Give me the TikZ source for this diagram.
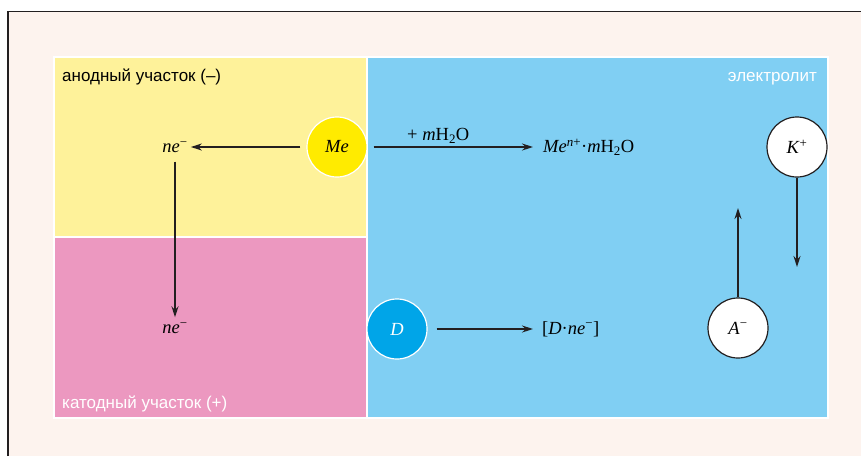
\documentclass[tikz,border=0pt]{standalone}
\usepackage{fontspec}
\setmainfont{Liberation Serif}
\setsansfont{Liberation Sans}
\usetikzlibrary{arrows.meta,positioning}
\definecolor{ink}{HTML}{231F20}
\definecolor{cream}{HTML}{FDF3EE}
\definecolor{anodeyellow}{HTML}{FEF29A}
\definecolor{cathodepink}{HTML}{EC98C0}
\definecolor{electroblue}{HTML}{80CFF3}
\definecolor{meyellow}{HTML}{FFEB00}
\definecolor{dblue}{HTML}{00A5E8}

\begin{document}
\begin{tikzpicture}[
  x=1pt, y=-1pt,
  font=\fontsize{18.5}{21}\selectfont,
  region/.style={draw=white, line width=1.5pt},
  zonelabel/.style={font=\sffamily\fontsize{17}{20}\selectfont, inner sep=0pt},
  ion/.style={circle, draw=ink, line width=1.2pt, fill=white, minimum size=60pt, inner sep=0pt},
  particle/.style={circle, draw=white, line width=1.2pt, minimum size=60pt, inner sep=0pt},
  chem/.style={inner sep=3pt},
  arrow/.style={-{Stealth[length=11pt,width=7pt]}, line width=1.3pt, draw=ink}
]
\useasboundingbox (0,0) rectangle (861,456);
\fill[white] (0,0) rectangle (861,456);
\fill[cream] (8,11.5) rectangle (861,456);
\draw[ink, line width=1.2pt] (8,456) -- (8,11.5) -- (861,11.5);

% zones
\filldraw[region, fill=anodeyellow] (54,57) rectangle (367,237);
\filldraw[region, fill=cathodepink] (54,237) rectangle (367,418);
\filldraw[region, fill=electroblue] (367,57) rectangle (828,418);
\node[zonelabel, anchor=base west] (anode) at (62,81) {анодный участок (–)};
\node[zonelabel, anchor=base west, text=white] (cathode) at (62,408) {катодный участок (+)};
\node[zonelabel, anchor=base east, text=white] (electrolyte) at (817,81) {электролит};

% particles
\node[particle, fill=meyellow] (me) at (337,147) {\textit{Me}};
\node[particle, fill=dblue, text=white] (d) at (397,329) {\textit{D}};
\node[ion] (k) at (797,147) {\textit{K}\textsuperscript{+}};
\node[ion] (a) at (738,328) {\textit{A}\textsuperscript{−}};

% products
\node[chem] (nea) at (175,147) {\textit{ne}\textsuperscript{−}};
\node[chem] (neb) at (175,328) {\textit{ne}\textsuperscript{−}};
\node[chem, anchor=west] (mehyd) at (540,147) {\textit{Me}\textsuperscript{\textit{n}+}·\textit{m}H\textsubscript{2}O};
\node[chem, anchor=west] (dne) at (539,329) {[\textit{D}·\textit{ne}\textsuperscript{−}]};
\coordinate (aup) at (738,208);
\coordinate (kdown) at (797,267);

\draw[arrow, shorten <=6pt] (me) -- (nea);
\draw[arrow, shorten <=6pt, shorten >=2pt] (nea) -- (neb);
\draw[arrow, shorten <=6pt, shorten >=7pt] (me) -- node[chem, above, pos=0.41] (water) {+ \textit{m}H\textsubscript{2}O} (mehyd);
\draw[arrow, shorten <=9pt, shorten >=6pt] (d) -- (dne);
\draw[arrow] (a) -- (aup);
\draw[arrow] (k) -- (kdown);
\end{tikzpicture}
\end{document}
